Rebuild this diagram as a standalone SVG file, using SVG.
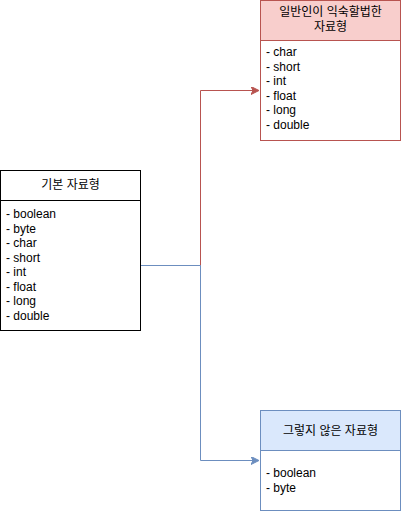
<svg xmlns="http://www.w3.org/2000/svg" width="401" height="511" viewBox="0 0 401 511">
<style>
text{font-family:"Liberation Sans","Noto Sans CJK KR",sans-serif;font-size:12px;fill:#000}
.c{text-anchor:middle}
.red{fill:#f8cecc;stroke:#b85450}
.blue{fill:#dae8fc;stroke:#6c8ebf}
.wr{fill:#fff;stroke:#b85450}
.wb{fill:#fff;stroke:#6c8ebf}
.k{fill:#fff;stroke:#000}
</style>
<defs>
<marker id="ar" markerWidth="10" markerHeight="10" refX="7" refY="4" orient="auto" markerUnits="userSpaceOnUse"><path d="M0,0 L8,4 L0,8 L2,4 Z" fill="#b85450" stroke="#b85450"/></marker>
<marker id="ab" markerWidth="10" markerHeight="10" refX="7" refY="4" orient="auto" markerUnits="userSpaceOnUse"><path d="M0,0 L8,4 L0,8 L2,4 Z" fill="#6c8ebf" stroke="#6c8ebf"/></marker>
</defs>
<g id="connectors" fill="none">
<path d="M140,265.5 H200.5 V90.5 H258" stroke="#b85450" marker-end="url(#ar)"/>
<path d="M140,265.5 H200.5 V460.5 H258" stroke="#6c8ebf" marker-end="url(#ab)"/>
</g>
<g id="basic">
<rect class="k" x="0.5" y="170.5" width="140" height="160"/>
<line x1="0.5" y1="200.5" x2="140.5" y2="200.5" stroke="#000"/>
<text class="c" x="70.5" y="189">기본 자료형</text>
<text x="6" y="218">- boolean</text>
<text x="6" y="232.5">- byte</text>
<text x="6" y="247">- char</text>
<text x="6" y="261.5">- short</text>
<text x="6" y="276">- int</text>
<text x="6" y="290.5">- float</text>
<text x="6" y="305">- long</text>
<text x="6" y="319.5">- double</text>
</g>
<g id="common">
<rect class="wr" x="260.5" y="0.5" width="140" height="140"/>
<rect class="red" x="260.5" y="0.5" width="140" height="40"/>
<text class="c" x="330.5" y="16">일반인이 익숙할법한</text>
<text class="c" x="330.5" y="31">자료형</text>
<text x="266" y="56">- char</text>
<text x="266" y="70.5">- short</text>
<text x="266" y="85">- int</text>
<text x="266" y="99.5">- float</text>
<text x="266" y="114">- long</text>
<text x="266" y="128.5">- double</text>
</g>
<g id="other">
<rect class="wb" x="260.5" y="410.5" width="140" height="100"/>
<rect class="blue" x="260.5" y="410.5" width="140" height="40"/>
<text class="c" x="330.5" y="434.5">그렇지 않은 자료형</text>
<text x="266" y="477">- boolean</text>
<text x="266" y="491.5">- byte</text>
</g>
</svg>
